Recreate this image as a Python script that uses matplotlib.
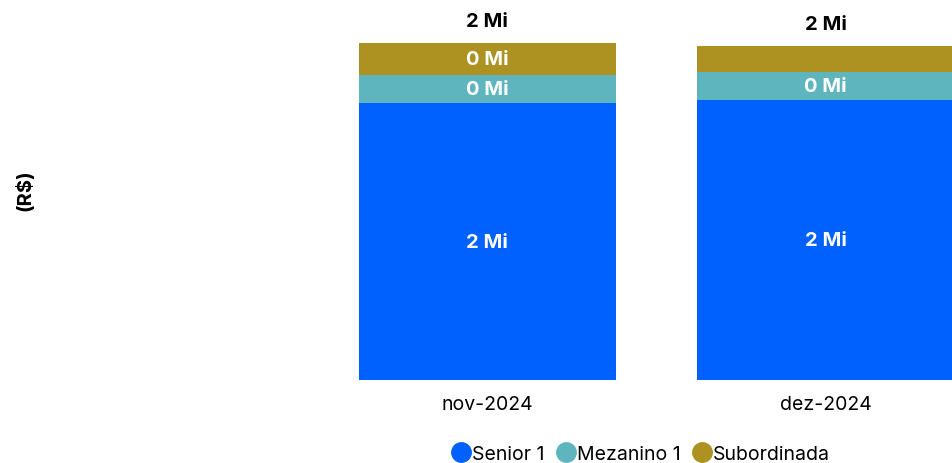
import numpy as np
from matplotlib import pyplot as plt
from matplotlib.lines import Line2D

plt.rcParams['font.family'] = ['Inter', 'DejaVu Sans']

## DATA (R$ milhoes)
meses = ["nov-2024", "dez-2024"]
senior = [1.64, 1.66]
mezanino = [0.166, 0.166]
subordinada = [0.19, 0.155]
series_names = ["Senior 1", "Mezanino 1", "Subordinada"]
colors = ["#0061FF", "#5EB5BD", "#AD9222"]
## END DATA

W, H = 952, 464
fig = plt.figure(figsize=(W / 100, H / 100), dpi=100)
# axes runs past the right edge so the second bar is cut like the original
ax = fig.add_axes([318 / W, (H - 381) / H, 677 / W, 371 / H])

x = np.arange(len(meses))
width = 0.76
bottoms = np.zeros(len(meses))
for vals, name, col in zip([senior, mezanino, subordinada], series_names, colors):
    vals = np.array(vals)
    ax.bar(x, vals, width, bottom=bottoms, color=col, label=name)
    for xi, b, v in zip(x, bottoms, vals):
        if v >= 0.16:
            ax.text(xi, b + v / 2, "%d Mi" % round(v), ha="center", va="center",
                    color="white", fontsize=14.5, fontweight="bold")
    bottoms = bottoms + vals

for xi, t in zip(x, bottoms):
    ax.text(xi, t + 0.13, "%d Mi" % round(t), ha="center", va="center",
            color="black", fontsize=14.5, fontweight="bold")

ax.set_xlim(-0.5, 1.5)
ax.set_ylim(0, 2.2)
ax.set_xticks(x)
ax.set_xticklabels(meses, fontsize=14)
ax.tick_params(axis="x", length=0, pad=11)
ax.set_yticks([])
for s in ax.spines.values():
    s.set_visible(False)

fig.text(25 / W, 1 - 190 / H, "(R$)", rotation=90, ha="center", va="center",
         fontsize=14.5, fontweight="bold")

handles = [Line2D([], [], marker="o", linestyle="", markersize=14,
                  markerfacecolor=c, markeredgecolor=c) for c in colors]
fig.legend(handles, series_names, loc="center", bbox_to_anchor=(640 / W, 1 - 455 / H),
           ncol=3, frameon=False, fontsize=14, handletextpad=0.0,
           columnspacing=0.55, handlelength=1.1)

plt.savefig("out.png", dpi=100)
